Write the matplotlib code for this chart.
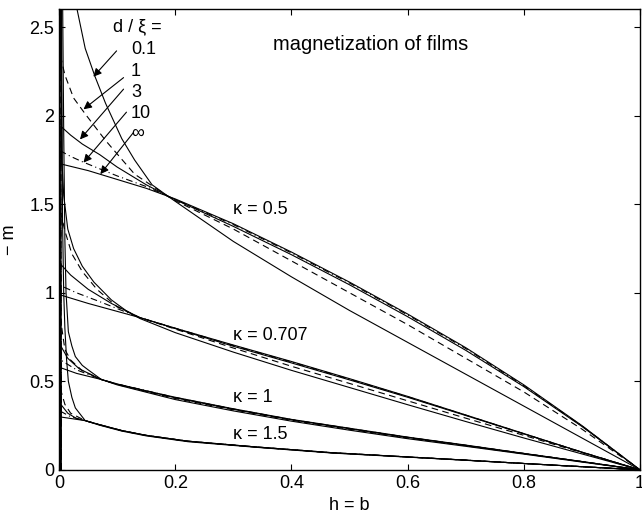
import matplotlib
matplotlib.use("Agg")
import matplotlib.pyplot as plt

plt.rcParams['font.family'] = ['Liberation Sans', 'DejaVu Sans']

# kappa = 0.5
k05_h_d01 = [0.02, 0.031, 0.045, 0.062, 0.08, 0.108, 0.13, 0.16, 0.194, 0.3, 0.4, 0.5, 0.6, 0.7, 0.8, 0.9, 1.0]
k05_m_d01 = [3.1, 2.6, 2.38, 2.22, 2.07, 1.87, 1.75, 1.61, 1.53, 1.29, 1.09, 0.90, 0.72, 0.54, 0.36, 0.18, 0.0]
k05_h_d1 = [0.003, 0.003, 0.01, 0.025, 0.045, 0.08, 0.13, 0.194, 0.3, 0.4, 0.5, 0.6, 0.7, 0.8, 0.9, 1.0]
k05_m_d1 = [0.0, 2.33, 2.23, 2.10, 2.01, 1.86, 1.67, 1.53, 1.36, 1.18, 1.00, 0.82, 0.63, 0.44, 0.23, 0.0]
k05_h_d3 = [0.003, 0.003, 0.02, 0.04, 0.07, 0.1, 0.15, 0.194, 0.3, 0.4, 0.5, 0.6, 0.7, 0.8, 0.9, 1.0]
k05_m_d3 = [0.0, 1.94, 1.89, 1.84, 1.78, 1.71, 1.61, 1.535, 1.375, 1.215, 1.045, 0.865, 0.675, 0.47, 0.245, 0.0]
k05_h_d10 = [0.003, 0.003, 0.02, 0.04, 0.07, 0.1, 0.15, 0.194, 0.3, 0.4, 0.5, 0.6, 0.7, 0.8, 0.9, 1.0]
k05_m_d10 = [0.0, 1.80, 1.77, 1.74, 1.70, 1.66, 1.60, 1.535, 1.385, 1.225, 1.055, 0.875, 0.685, 0.475, 0.248, 0.0]
k05_h_inf = [0.0, 0.05, 0.1, 0.15, 0.2, 0.3, 0.4, 0.5, 0.6, 0.7, 0.8, 0.9, 1.0]
k05_m_inf = [1.73, 1.69, 1.64, 1.59, 1.53, 1.39, 1.23, 1.06, 0.88, 0.69, 0.48, 0.25, 0.0]

# kappa = 0.707
k07_h_d01 = [0.003, 0.003, 0.005, 0.008, 0.015, 0.025, 0.04, 0.06, 0.09, 0.115, 0.139, 0.2, 0.3, 0.4, 0.5, 0.6, 0.7, 0.8, 0.9, 1.0]
k07_m_d01 = [0.0, 2.7, 1.74, 1.55, 1.36, 1.25, 1.15, 1.06, 0.96, 0.90, 0.855, 0.775, 0.665, 0.562, 0.465, 0.368, 0.273, 0.18, 0.09, 0.0]
k07_h_d1 = [0.003, 0.003, 0.01, 0.022, 0.04, 0.065, 0.1, 0.139, 0.2, 0.3, 0.4, 0.5, 0.6, 0.7, 0.8, 0.9, 1.0]
k07_m_d1 = [0.0, 1.45, 1.35, 1.22, 1.12, 1.02, 0.92, 0.86, 0.795, 0.688, 0.585, 0.488, 0.39, 0.292, 0.195, 0.097, 0.0]
k07_h_d3 = [0.003, 0.003, 0.02, 0.05, 0.09, 0.139, 0.2, 0.3, 0.4, 0.5, 0.6, 0.7, 0.8, 0.9, 1.0]
k07_m_d3 = [0.0, 1.16, 1.10, 1.02, 0.94, 0.86, 0.798, 0.698, 0.604, 0.508, 0.41, 0.307, 0.203, 0.1, 0.0]
k07_h_d10 = [0.003, 0.003, 0.03, 0.07, 0.139, 0.2, 0.3, 0.4, 0.5, 0.6, 0.7, 0.8, 0.9, 1.0]
k07_m_d10 = [0.0, 1.04, 1.0, 0.95, 0.86, 0.80, 0.702, 0.609, 0.512, 0.413, 0.309, 0.204, 0.1, 0.0]
k07_h_inf = [0.0, 0.05, 0.1, 0.139, 0.2, 0.3, 0.4, 0.5, 0.6, 0.7, 0.8, 0.9, 1.0]
k07_m_inf = [0.99, 0.94, 0.895, 0.86, 0.80, 0.705, 0.612, 0.515, 0.415, 0.31, 0.205, 0.10, 0.0]

# kappa = 1
k1_h_d01 = [0.006, 0.008, 0.01, 0.012, 0.016, 0.022, 0.028, 0.04, 0.05, 0.073, 0.1, 0.2, 0.3, 0.4, 0.5, 0.6, 0.7, 0.8, 0.9, 1.0]
k1_m_d01 = [2.7, 1.9, 1.3, 1.0, 0.78, 0.70, 0.64, 0.59, 0.565, 0.51, 0.48, 0.397, 0.333, 0.275, 0.224, 0.176, 0.133, 0.089, 0.044, 0.0]
k1_h_d1 = [0.003, 0.003, 0.01, 0.02, 0.04, 0.073, 0.1, 0.2, 0.3, 0.4, 0.5, 0.6, 0.7, 0.8, 0.9, 1.0]
k1_m_d1 = [0.0, 0.84, 0.68, 0.62, 0.56, 0.51, 0.482, 0.403, 0.339, 0.28, 0.229, 0.18, 0.136, 0.091, 0.046, 0.0]
k1_h_d3 = [0.003, 0.003, 0.015, 0.035, 0.073, 0.1, 0.2, 0.3, 0.4, 0.5, 0.6, 0.7, 0.8, 0.9, 1.0]
k1_m_d3 = [0.0, 0.70, 0.63, 0.57, 0.51, 0.484, 0.407, 0.342, 0.283, 0.232, 0.183, 0.138, 0.092, 0.047, 0.0]
k1_h_d10 = [0.003, 0.003, 0.03, 0.073, 0.1, 0.2, 0.3, 0.4, 0.5, 0.6, 0.7, 0.8, 0.9, 1.0]
k1_m_d10 = [0.0, 0.62, 0.565, 0.51, 0.485, 0.409, 0.344, 0.284, 0.234, 0.184, 0.139, 0.093, 0.047, 0.0]
k1_h_inf = [0.0, 0.03, 0.073, 0.1, 0.165, 0.2, 0.3, 0.4, 0.5, 0.6, 0.7, 0.8, 0.9, 1.0]
k1_m_inf = [0.58, 0.545, 0.51, 0.485, 0.435, 0.41, 0.345, 0.285, 0.235, 0.185, 0.14, 0.093, 0.047, 0.0]

# kappa = 1.5
k15_h_d01 = [0.004, 0.006, 0.008, 0.01, 0.013, 0.016, 0.022, 0.028, 0.045, 0.07, 0.108, 0.15, 0.222, 0.337, 0.47, 0.6, 0.7, 0.8, 0.9, 1.0]
k15_m_d01 = [2.7, 1.4, 1.0, 0.80, 0.62, 0.50, 0.41, 0.35, 0.278, 0.252, 0.219, 0.192, 0.159, 0.128, 0.095, 0.072, 0.054, 0.036, 0.018, 0.0]
k15_h_d1 = [0.003, 0.003, 0.01, 0.02, 0.045, 0.07, 0.108, 0.15, 0.222, 0.337, 0.47, 0.6, 0.7, 0.8, 0.9, 1.0]
k15_m_d1 = [0.0, 0.45, 0.37, 0.32, 0.278, 0.254, 0.221, 0.194, 0.161, 0.129, 0.096, 0.073, 0.055, 0.036, 0.018, 0.0]
k15_h_d3 = [0.003, 0.003, 0.015, 0.03, 0.045, 0.07, 0.108, 0.15, 0.222, 0.337, 0.47, 0.6, 0.7, 0.8, 0.9, 1.0]
k15_m_d3 = [0.0, 0.37, 0.32, 0.29, 0.278, 0.255, 0.222, 0.195, 0.162, 0.13, 0.097, 0.073, 0.055, 0.036, 0.018, 0.0]
k15_h_d10 = [0.003, 0.003, 0.02, 0.045, 0.07, 0.108, 0.15, 0.222, 0.337, 0.47, 0.6, 0.7, 0.8, 0.9, 1.0]
k15_m_d10 = [0.0, 0.33, 0.30, 0.278, 0.255, 0.222, 0.195, 0.162, 0.13, 0.097, 0.073, 0.055, 0.036, 0.018, 0.0]
k15_h_inf = [0.0, 0.045, 0.07, 0.108, 0.15, 0.222, 0.337, 0.47, 0.6, 0.7, 0.8, 0.9, 1.0]
k15_m_inf = [0.30, 0.278, 0.255, 0.222, 0.195, 0.162, 0.13, 0.097, 0.073, 0.055, 0.036, 0.018, 0.0]

d_labels = ['0.1', '1', '3', '10', '\u221e']
kappa_labels = ['\u03ba = 0.5', '\u03ba = 0.707', '\u03ba = 1', '\u03ba = 1.5']

styles = ['-', (0, (6, 4)), '-', (0, (6, 3, 1, 3)), '-']

curves = [
    (k05_h_d01, k05_m_d01), (k05_h_d1, k05_m_d1), (k05_h_d3, k05_m_d3), (k05_h_d10, k05_m_d10), (k05_h_inf, k05_m_inf),
    (k07_h_d01, k07_m_d01), (k07_h_d1, k07_m_d1), (k07_h_d3, k07_m_d3), (k07_h_d10, k07_m_d10), (k07_h_inf, k07_m_inf),
    (k1_h_d01, k1_m_d01), (k1_h_d1, k1_m_d1), (k1_h_d3, k1_m_d3), (k1_h_d10, k1_m_d10), (k1_h_inf, k1_m_inf),
    (k15_h_d01, k15_m_d01), (k15_h_d1, k15_m_d1), (k15_h_d3, k15_m_d3), (k15_h_d10, k15_m_d10), (k15_h_inf, k15_m_inf),
]

fig = plt.figure(figsize=(6.42, 5.25), dpi=100)
ax = fig.add_axes([0.092, 0.105, 0.905, 0.877])

for i, (h, m) in enumerate(curves):
    ax.plot(h, m, color='k', lw=0.8, linestyle=styles[i % 5])

ax.set_xlim(0, 1)
ax.set_ylim(0, 2.6)
ax.set_xticks([0, 0.2, 0.4, 0.6, 0.8, 1])
ax.set_xticklabels(['0', '0.2', '0.4', '0.6', '0.8', '1'])
ax.set_yticks([0, 0.5, 1, 1.5, 2, 2.5])
ax.set_yticklabels(['0', '0.5', '1', '1.5', '2', '2.5'])
ax.tick_params(direction='in', top=True, right=True, length=4, width=0.8, labelsize=13)
for s in ax.spines.values():
    s.set_linewidth(1.0)

ax.set_xlabel('h = b', fontsize=13, labelpad=4)
ax.set_ylabel('\u2212 m', fontsize=13, labelpad=8)

# text labels
ax.text(0.093, 2.50, 'd / \u03be =', fontsize=13, va='center')
label_y = [2.375, 2.25, 2.13, 2.01, 1.90]
for lab, y in zip(d_labels, label_y):
    ax.text(0.124, y, lab, fontsize=13, va='center')
ax.text(0.368, 2.40, 'magnetization of films', fontsize=14.5, va='center')

kappa_y = [1.47, 0.76, 0.41, 0.20]
for lab, y in zip(kappa_labels, kappa_y):
    ax.text(0.30, y, lab, fontsize=13, va='center')

# arrows from labels to curves
arrow_start = [(0.099, 2.366), (0.111, 2.215), (0.111, 2.15), (0.116, 2.02), (0.128, 1.905)]
arrow_end = [(0.059, 2.22), (0.042, 2.036), (0.036, 1.866), (0.042, 1.735), (0.071, 1.67)]
for s, e in zip(arrow_start, arrow_end):
    ax.annotate('', xy=e, xytext=s,
                arrowprops=dict(arrowstyle='-|>', color='k', lw=0.8,
                                mutation_scale=12, shrinkA=0, shrinkB=0))

fig.savefig('out.png', dpi=100)
